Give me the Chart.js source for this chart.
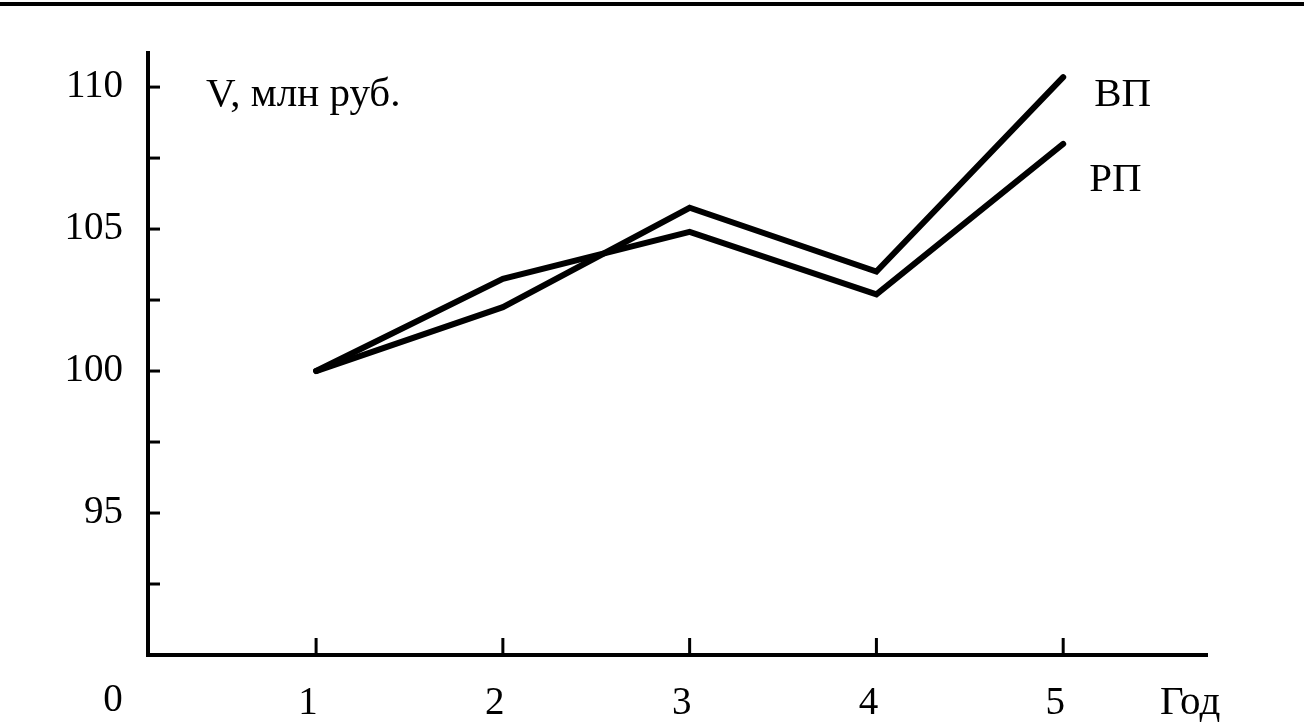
<!DOCTYPE html>
<html lang="ru">
<head>
<meta charset="utf-8">
<title>ВП и РП</title>
<script src="https://cdn.jsdelivr.net/npm/chart.js@4.4.1/dist/chart.umd.min.js"></script>
<style>
    html, body { margin: 0; padding: 0; background: #fff; }
    #wrap { position: relative; width: 1304px; height: 726px; }
    #topRule { position: absolute; left: 0; top: 2px; width: 1304px; height: 4px; background: #000; }
</style>
</head>
<body>
<div id="wrap">
    <div id="topRule"></div>
    <canvas id="chart" width="1304" height="726"></canvas>
</div>
<script>
    // ============================================================
    // DATA
    // ============================================================
    const years = [1, 2, 3, 4, 5];
    const vpValues = [100, 102.25, 105.75, 103.5, 110.35];   // ВП
    const rpValues = [100, 103.25, 104.9, 102.7, 108.0];     // РП
    const yLabelTicks = [95, 100, 105, 110];
    const yMarkTicks = [92.5, 95, 97.5, 100, 102.5, 105, 107.5, 110];
    const xTicks = [1, 2, 3, 4, 5];

    const FONT = '"Liberation Serif", "DejaVu Serif", serif';

    const toPoints = (ys) => years.map((x, i) => ({ x: x, y: ys[i] }));

    // ============================================================
    // PLUGIN: inward tick marks + text annotations
    // ============================================================
    const decorPlugin = {
        id: 'decor',
        afterDraw(chart) {
            const ctx = chart.ctx;
            const xs = chart.scales.x;
            const ys = chart.scales.y;
            const area = chart.chartArea;

            ctx.save();
            ctx.strokeStyle = '#000';
            ctx.lineWidth = 3;

            // y tick marks pointing into the plot
            yMarkTicks.forEach(v => {
                const py = ys.getPixelForValue(v);
                ctx.beginPath();
                ctx.moveTo(area.left, py);
                ctx.lineTo(area.left + 12, py);
                ctx.stroke();
            });

            // x tick marks pointing up
            xTicks.forEach(v => {
                const px = xs.getPixelForValue(v);
                ctx.beginPath();
                ctx.moveTo(px, area.bottom);
                ctx.lineTo(px, area.bottom - 17);
                ctx.stroke();
            });

            ctx.fillStyle = '#000';
            ctx.font = '41px ' + FONT;
            ctx.textBaseline = 'middle';
            ctx.textAlign = 'left';

            // axis titles
            ctx.fillText('V, млн руб.', area.left + 58, ys.getPixelForValue(110) + 8);
            ctx.fillText('Год', area.right - 47, area.bottom + 48);

            // origin
            ctx.font = '39px ' + FONT;
            ctx.textAlign = 'center';
            ctx.fillText('0', area.left - 35, area.bottom + 46);

            // series labels at line ends
            ctx.font = '41px ' + FONT;
            ctx.textAlign = 'left';
            const endX = xs.getPixelForValue(years[years.length - 1]);
            ctx.fillText('ВП', endX + 31, ys.getPixelForValue(vpValues[vpValues.length - 1]) + 18);
            ctx.fillText('РП', endX + 26, ys.getPixelForValue(rpValues[rpValues.length - 1]) + 36);

            ctx.restore();
        }
    };

    // ============================================================
    // CHART
    // ============================================================
    const lineStyle = {
        borderColor: '#000',
        borderWidth: 6,
        pointRadius: 0,
        tension: 0,
        fill: false,
        borderJoinStyle: 'miter',
        borderCapStyle: 'round'
    };

    new Chart(document.getElementById('chart'), {
        type: 'line',
        data: {
            datasets: [
                Object.assign({ label: 'ВП', data: toPoints(vpValues) }, lineStyle),
                Object.assign({ label: 'РП', data: toPoints(rpValues) }, lineStyle)
            ]
        },
        options: {
            responsive: false,
            animation: false,
            layout: { padding: { top: 53, right: 97, left: 0, bottom: 0 } },
            plugins: {
                legend: { display: false },
                tooltip: { enabled: false }
            },
            scales: {
                x: {
                    type: 'linear',
                    min: 0.1,
                    max: 5.77,
                    afterBuildTicks: (scale) => { scale.ticks = xTicks.map(v => ({ value: v })); },
                    afterFit: (scale) => { scale.height = 71; },
                    grid: { drawOnChartArea: false, drawTicks: false },
                    border: { color: '#000', width: 4 },
                    ticks: {
                        color: '#000',
                        padding: 25,
                        labelOffset: -8,
                        maxRotation: 0,
                        font: { family: FONT, size: 39 }
                    }
                },
                y: {
                    min: 90,
                    max: 111.2,
                    afterBuildTicks: (scale) => { scale.ticks = yLabelTicks.map(v => ({ value: v })); },
                    afterFit: (scale) => { scale.width = 148; },
                    grid: { drawOnChartArea: false, drawTicks: false },
                    border: { color: '#000', width: 4 },
                    ticks: {
                        color: '#000',
                        padding: 25,
                        font: { family: FONT, size: 39 }
                    }
                }
            }
        },
        plugins: [decorPlugin]
    });
</script>
</body>
</html>
